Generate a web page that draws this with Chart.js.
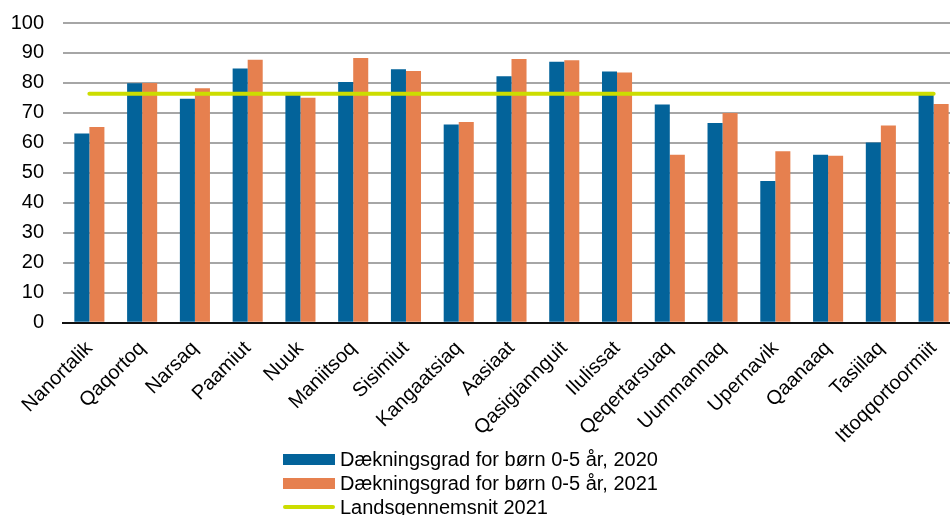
<!DOCTYPE html>
<html>
<head>
<meta charset="utf-8">
<script src="https://cdn.jsdelivr.net/npm/chart.js@4"></script>
<style>
  html, body { margin: 0; padding: 0; background: #fff; overflow: hidden; }
  #wrap { position: relative; width: 962px; height: 515px; }
  #chartBox { position: absolute; left: 0; top: 0; width: 962px; height: 464px; }
  #legend { position: absolute; left: 283px; top: 447px; font: 20px "Liberation Sans", Arial, sans-serif; color: #000; }
  .row { height: 24px; display: flex; align-items: center; white-space: nowrap; }
  .sw { width: 52px; height: 11px; margin-right: 5px; }
  .ln { width: 52px; height: 4px; margin-right: 5px; border-radius: 2px; }
</style>
</head>
<body>
<div id="wrap">
  <div id="chartBox"><canvas id="coverChart"></canvas></div>
  <div id="legend"></div>
</div>
<script>
const towns = ['Nanortalik', 'Qaqortoq', 'Narsaq', 'Paamiut', 'Nuuk', 'Maniitsoq', 'Sisimiut', 'Kangaatsiaq',
  'Aasiaat', 'Qasigiannguit', 'Ilulissat', 'Qeqertarsuaq', 'Uummannaq', 'Upernavik', 'Qaanaaq', 'Tasiilaq', 'Ittoqqortoormiit'];
const cover2020 = [63.1, 79.9, 74.7, 84.8, 76.3, 80.3, 84.6, 66.1, 82.2, 87.1, 83.8, 72.8, 66.6, 47.3, 56.0, 60.1, 76.3];
const cover2021 = [65.3, 80.0, 78.2, 87.7, 75.1, 88.3, 84.0, 67.0, 88.0, 87.6, 83.5, 56.0, 70.0, 57.2, 55.7, 65.8, 73.0];
const nationalAvg2021 = 76.4;
const yTicks = [0, 10, 20, 30, 40, 50, 60, 70, 80, 90, 100];

const labels2020 = 'Dækningsgrad for børn 0-5 år, 2020';
const labels2021 = 'Dækningsgrad for børn 0-5 år, 2021';
const labelAvg = 'Landsgennemsnit 2021';

const blue = '#03639A';
const orange = '#E6804F';
const green = '#CCDD00';
const font = { family: '"Liberation Sans", Arial, sans-serif', size: 20 };

const ctx = document.getElementById('coverChart').getContext('2d');
new Chart(ctx, {
  type: 'bar',
  data: {
    labels: towns,
    datasets: [
      { label: labelAvg, type: 'line', data: towns.map(() => nationalAvg2021), borderColor: green,
        borderWidth: 4, pointRadius: 0, order: 0, borderCapStyle: 'round' },
      { label: labels2020, data: cover2020, backgroundColor: blue, order: 1 },
      { label: labels2021, data: cover2021, backgroundColor: orange, order: 1 }
    ]
  },
  options: {
    responsive: true,
    maintainAspectRatio: false,
    animation: false,
    layout: { padding: { left: 10, right: 2, top: 23, bottom: 2 } },
    datasets: { bar: { categoryPercentage: 0.57, barPercentage: 1 } },
    plugins: { legend: { display: false }, tooltip: { enabled: false } },
    scales: {
      x: {
        grid: { display: false, drawTicks: false },
        border: { color: '#111', width: 2 },
        ticks: { color: '#000', font, maxRotation: 45, minRotation: 45, padding: 14, autoSkip: false },
        // rotated first label may hang left of the plot, like in the original
        afterFit: axis => { axis.paddingLeft = 0; axis.paddingRight = 0; }
      },
      y: {
        min: 0, max: 100,
        afterBuildTicks: axis => { axis.ticks = yTicks.map(v => ({ value: v })); },
        // chart.js reserves the tick padding twice; only keep it on the plot side
        afterFit: axis => { axis.width = 53; axis.paddingTop = 0; },
        grid: { color: '#A6A6A6', lineWidth: 2, drawTicks: false },
        border: { display: false },
        ticks: { color: '#000', font, padding: 19 }
      }
    }
  }
});

const legend = document.getElementById('legend');
[[labels2020, 'sw', blue], [labels2021, 'sw', orange], [labelAvg, 'ln', green]].forEach(([text, cls, color]) => {
  const row = document.createElement('div');
  row.className = 'row';
  const mark = document.createElement('span');
  mark.className = cls;
  mark.style.background = color;
  row.appendChild(mark);
  row.appendChild(document.createTextNode(text));
  legend.appendChild(row);
});
</script>
</body>
</html>
